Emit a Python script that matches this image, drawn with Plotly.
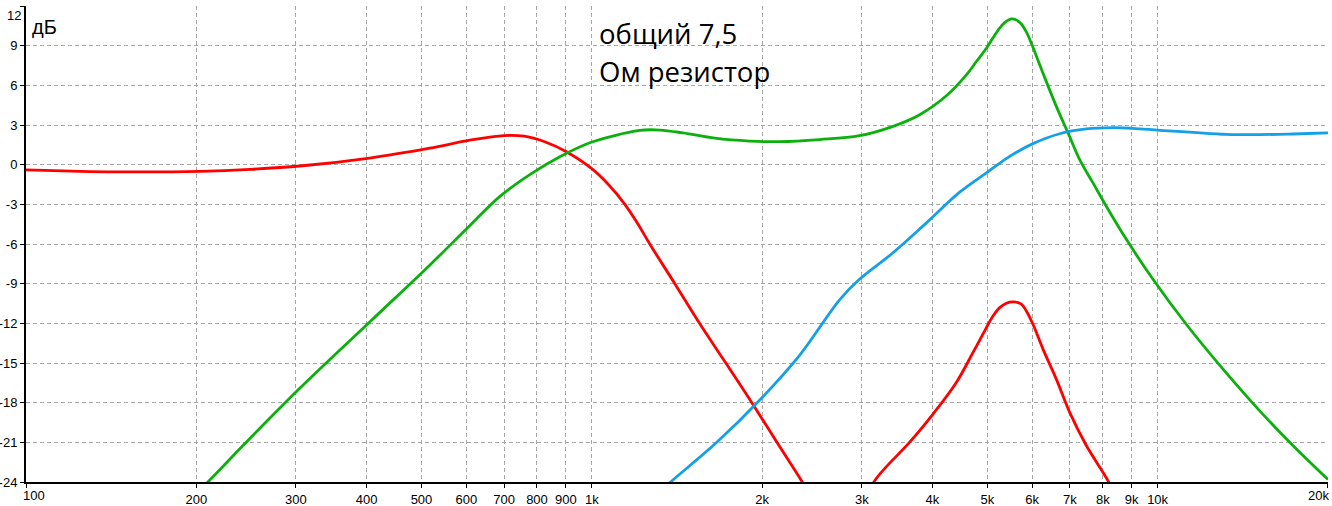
import math
import plotly.graph_objects as go

# ---- data (frequency Hz, level dB) ----
woofer_f = [100, 125, 160, 203, 249, 305, 405, 517, 609, 699, 760, 830, 900, 1000, 1070, 1144, 1205, 1266, 1402, 1550, 1725, 1918, 2124, 2355, 2600]
woofer_db = [-0.4, -0.5, -0.55, -0.5, -0.35, -0.1, 0.5, 1.25, 1.85, 2.2, 2.15, 1.7, 1.0, -0.3, -1.5, -3.0, -4.45, -6.0, -9.0, -12.0, -15.0, -18.0, -21.0, -24.0, -27.0]

notch_f = [3000, 3162, 3646, 4009, 4408, 4718, 4982, 5117, 5258, 5404, 5567, 5743, 5861, 6022, 6272, 6622, 6992, 7482, 8170, 8400]
notch_db = [-26.0, -23.9, -20.99, -18.86, -16.47, -14.2, -12.32, -11.44, -10.81, -10.48, -10.38, -10.55, -11.06, -12.07, -13.95, -16.22, -18.73, -21.24, -23.9, -25.0]

mid_f = [190, 209.6, 245, 305, 405, 517, 609, 688, 777, 878, 992, 1121, 1215, 1319, 1450, 1650, 1900, 2148, 2528, 2972, 3407, 3798, 4233, 4592, 4783, 4982, 5117, 5258, 5366, 5513, 5627, 5743, 5861, 5982, 6272, 6622, 6945, 7282, 7688, 8115, 8805, 9813, 11236, 12870, 15140, 17342, 20000]
mid_db = [-25.8, -24.0, -21.0, -16.9, -11.9, -7.6, -4.6, -2.4, -0.75, 0.6, 1.66, 2.3, 2.6, 2.62, 2.4, 2.0, 1.78, 1.74, 1.9, 2.19, 2.9, 3.78, 5.21, 6.79, 7.8, 8.81, 9.59, 10.32, 10.74, 11.02, 10.94, 10.64, 10.04, 9.18, 6.92, 4.41, 2.4, 0.38, -1.38, -3.14, -5.65, -8.67, -12.07, -15.16, -18.6, -21.24, -23.81]

tw_f = [1300, 1378, 1663, 1981, 2331, 2743, 2972, 3407, 3903, 4468, 4982, 5477, 6022, 6714, 7482, 8339, 9045, 10081, 11544, 13224, 15140, 17342, 20000]
tw_db = [-25.0, -24.0, -21.0, -17.8, -14.4, -10.2, -8.67, -6.66, -4.4, -2.08, -0.62, 0.63, 1.59, 2.34, 2.7, 2.8, 2.75, 2.6, 2.44, 2.29, 2.27, 2.32, 2.4]

x_tickvals = [100, 200, 300, 400, 500, 600, 700, 800, 900, 1000, 2000, 3000, 4000, 5000, 6000, 7000, 8000, 9000, 10000, 20000]
x_ticktext = ["100", "200", "300", "400", "500", "600", "700", "800", "900", "1k", "2k", "3k", "4k", "5k", "6k", "7k", "8k", "9k", "10k", "20k"]
y_tickvals = [-24, -21, -18, -15, -12, -9, -6, -3, 0, 3, 6, 9, 12]
y_ticktext = ["-24", "-21", "-18", "-15", "-12", "-9", "-6", "-3", "0", "3", "6", "9", "12"]

title_lines = ["общий 7,5", "Ом резистор"]
unit_label = "дБ"

RED = "#FF0000"
GREEN = "#0CB00C"
BLUE = "#14A0E6"

fig = go.Figure()
for fx, fy, col in [(woofer_f, woofer_db, RED), (notch_f, notch_db, RED),
                    (mid_f, mid_db, GREEN), (tw_f, tw_db, BLUE)]:
    fig.add_trace(go.Scatter(x=fx, y=fy, mode="lines",
                             line=dict(color=col, width=2.8, shape="spline", smoothing=1.0),
                             showlegend=False, hoverinfo="skip"))

# edge tick labels are drawn as annotations (so they are not clipped)
x_text_main = [t if v not in (100, 20000) else "" for v, t in zip(x_tickvals, x_ticktext)]
y_text_main = [t if v != 12 else "" for v, t in zip(y_tickvals, y_ticktext)]

L, R, T, B = 26, 4, 6, 24
PW, PH = 1332 - L - R, 506 - T - B

def px(xp):
    return (xp - L) / PW

def py(yp):
    return (T + PH - yp) / PH

tickfont = dict(family="Liberation Sans, Arial, sans-serif", size=13, color="black")
grid = dict(showgrid=True, gridcolor="#A6A6A6", griddash="4px,3px", gridwidth=1,
            showline=True, linecolor="black", linewidth=2,
            ticks="outside", tickcolor="black", tickwidth=1,
            zeroline=False, fixedrange=True, automargin=False, tickfont=tickfont)

fig.update_layout(
    width=1332, height=506,
    margin=dict(l=L, r=R, t=T, b=B, autoexpand=False),
    paper_bgcolor="white", plot_bgcolor="white",
    xaxis=dict(type="log", range=[2, math.log10(20000) + 1e-4],
               tickvals=x_tickvals, ticktext=x_text_main, ticklen=4, **grid),
    yaxis=dict(range=[-24, 12.0001], tickvals=y_tickvals, ticktext=y_text_main, ticklen=4, **grid),
    annotations=[
        dict(text=x_ticktext[0], xref="paper", yref="paper", x=px(21), y=py(496),
             xanchor="left", yanchor="middle", showarrow=False, font=tickfont),
        dict(text=x_ticktext[-1], xref="paper", yref="paper", x=px(1331), y=py(496),
             xanchor="right", yanchor="middle", showarrow=False, font=tickfont),
        dict(text=y_ticktext[-1], xref="paper", yref="paper", x=px(23), y=py(15),
             xanchor="right", yanchor="middle", showarrow=False, font=tickfont),
        dict(text=unit_label, xref="paper", yref="paper", x=px(30), y=py(27),
             xanchor="left", yanchor="middle", showarrow=False,
             font=dict(family="Liberation Sans, Arial, sans-serif", size=20, color="black")),
        dict(text=title_lines[0], xref="paper", yref="paper", x=px(597), y=py(33),
             xanchor="left", yanchor="middle", showarrow=False,
             font=dict(family="Open Sans, sans-serif", size=27.5, color="black")),
        dict(text=title_lines[1], xref="paper", yref="paper", x=px(597), y=py(72),
             xanchor="left", yanchor="middle", showarrow=False,
             font=dict(family="Open Sans, sans-serif", size=27.5, color="black")),
    ],
)

fig.write_html("out.html", config={"displayModeBar": False},
               post_script="document.body.style.margin='0';document.body.style.overflow='hidden';")
